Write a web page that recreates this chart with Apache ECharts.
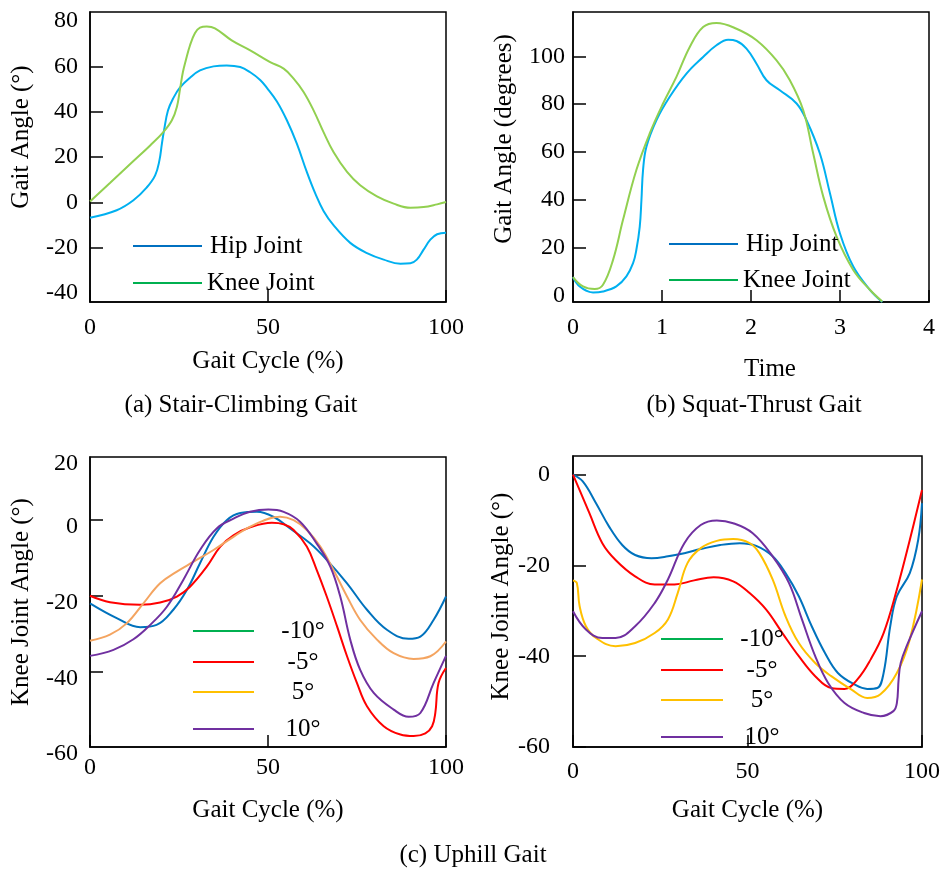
<!DOCTYPE html>
<html>
<head>
<meta charset="utf-8">
<script src="https://cdn.jsdelivr.net/npm/echarts@6.0.0/dist/echarts.min.js"></script>
<style>
  html, body { margin: 0; padding: 0; background: #fff; }
  #chart { width: 943px; height: 869px; }
</style>
</head>
<body>
<div id="chart"></div>
<script>
const FONT = 'Liberation Serif'

// (a) stair climbing
const hipAX = [0, 7.5, 12.2, 15.9, 18.3, 19.5, 20.2, 20.8, 21.9, 23.4, 25.3, 28.1, 30.9, 34.7, 38.4, 42.2, 45.0, 47.8, 49.7, 52.5, 55.3, 58.1, 60.9, 63.3, 65.6, 68.4, 73.1, 77.8, 82.5, 87.2, 90.0, 91.8, 93.7, 95.6, 97.5, 100]
const hipAY = [-6.8, -3.5, 0.9, 6.5, 11.9, 18.5, 25.9, 31.8, 40.5, 46.0, 50.7, 55.0, 58.2, 60.0, 60.4, 59.7, 57.4, 54.0, 50.5, 44.5, 36.2, 25.9, 13.4, 3.8, -3.8, -10.1, -17.9, -22.4, -25.3, -27.1, -26.9, -25.3, -20.9, -16.5, -14.1, -13.4]
const kneeAX = [0, 5.6, 12.2, 16.9, 20.6, 23.0, 24.4, 25.3, 26.1, 26.9, 28.1, 29.5, 30.9, 32.8, 35.1, 39.8, 45.0, 50.6, 54.4, 57.2, 60.0, 62.8, 65.6, 68.4, 72.2, 75.9, 80.6, 85.3, 90.0, 93.7, 97.5, 100]
const kneeAY = [0.4, 8.5, 18.2, 25.1, 31.0, 36.2, 42.1, 50.1, 57.5, 62.6, 69.3, 74.7, 77.1, 77.6, 76.8, 71.5, 67.1, 61.9, 59.0, 54.6, 48.7, 40.6, 31.0, 22.2, 13.4, 7.5, 2.6, -0.6, -2.4, -2.1, -0.9, 0.1]

// (b) squat thrust
const hipBX = [0, 0.075, 0.225, 0.337, 0.487, 0.6, 0.675, 0.712, 0.75, 0.769, 0.787, 0.825, 0.937, 1.087, 1.275, 1.462, 1.612, 1.743, 1.837, 1.949, 2.062, 2.174, 2.324, 2.512, 2.624, 2.774, 2.887, 2.999, 3.149, 3.336, 3.475]
const hipBY = [7.8, 3.9, 1.4, 1.8, 3.9, 8.1, 13.6, 19.2, 28.9, 40.0, 52.5, 62.2, 73.3, 83.1, 92.8, 99.7, 104.6, 106.9, 106.4, 103.2, 96.9, 90.0, 85.8, 80.3, 73.3, 59.4, 42.8, 26.1, 12.2, 2.5, -2.6]
const kneeBX = [0, 0.112, 0.244, 0.337, 0.45, 0.562, 0.712, 0.862, 1.012, 1.162, 1.312, 1.462, 1.612, 1.837, 2.062, 2.287, 2.437, 2.587, 2.699, 2.812, 2.962, 3.149, 3.336, 3.475]
const kneeBY = [7.8, 3.9, 2.8, 4.6, 15.0, 31.7, 52.5, 67.8, 80.3, 91.4, 103.9, 112.2, 113.9, 111.5, 106.7, 98.3, 90.0, 77.5, 59.4, 41.4, 24.7, 10.8, 2.5, -2.4]

// (c) uphill, left
const m10CX = [0, 7.5, 14.1, 18.7, 23.4, 27.2, 30.9, 34.7, 38.4, 42.2, 46.9, 51.5, 56.2, 61.9, 66.5, 72.2, 77.8, 83.4, 89.5, 92.8, 96.5, 100]
const m10CY = [-22.0, -25.9, -28.3, -27.7, -23.7, -18.5, -11.4, -4.4, 0.0, 1.9, 2.2, 0.9, -2.2, -6.2, -10.5, -16.7, -23.7, -29.0, -31.4, -30.8, -26.4, -20.2]
const m5CX = [0, 5.6, 14.1, 19.7, 24.4, 28.1, 32.8, 36.6, 40.3, 45.0, 51.1, 54.4, 57.2, 60.9, 63.7, 66.5, 69.4, 72.2, 75.0, 77.8, 82.5, 87.2, 90.9, 94.2, 96.1, 97.0, 97.9, 100]
const m5CY = [-20.0, -21.7, -22.4, -21.8, -20.2, -17.6, -12.3, -7.0, -4.0, -1.9, -0.7, -1.1, -2.6, -7.0, -13.2, -20.2, -28.1, -36.0, -43.1, -49.2, -54.5, -56.7, -57.1, -56.4, -54.5, -51.0, -43.1, -39.1]
const p5CX = [0, 5.6, 10.3, 15.0, 19.7, 24.4, 29.1, 34.7, 40.3, 45.9, 53.4, 57.2, 60.9, 64.7, 68.4, 72.2, 75.9, 80.6, 85.3, 90.9, 95.6, 100]
const p5CY = [-31.9, -30.3, -27.3, -22.0, -16.7, -13.6, -11.0, -7.9, -4.4, -1.3, 0.9, 0.0, -2.6, -7.0, -13.2, -20.2, -26.4, -31.6, -35.2, -36.7, -36.0, -32.1]
const p10CX = [0, 6.6, 12.2, 16.9, 21.6, 26.2, 30.9, 35.6, 40.3, 45.0, 50.1, 54.4, 59.0, 63.7, 67.5, 70.3, 73.1, 75.9, 79.7, 85.3, 89.5, 92.8, 96.5, 100]
const p10CY = [-35.9, -34.3, -31.5, -27.7, -22.9, -15.8, -7.9, -2.2, 0.4, 2.2, 2.8, 2.2, -0.4, -6.2, -12.3, -20.2, -31.6, -39.6, -45.7, -50.1, -52.0, -51.0, -43.1, -35.9]

// (c) uphill, right
const m10DX = [0, 2.8, 6.6, 10.3, 14.1, 17.8, 22.5, 27.2, 31.9, 36.6, 42.2, 47.8, 52.5, 57.2, 60.9, 64.7, 68.4, 72.2, 75.9, 80.6, 84.3, 87.2, 89.0, 90.9, 92.8, 96.5, 98.9, 100]
const m10DY = [0.0, -1.5, -6.3, -11.4, -15.5, -17.7, -18.4, -18.0, -17.3, -16.4, -15.5, -15.1, -15.7, -18.0, -21.7, -26.8, -33.4, -39.3, -43.7, -46.2, -47.2, -47.0, -43.7, -33.4, -26.8, -21.7, -14.4, -6.3]
const m5DX = [0, 1.9, 4.7, 8.4, 12.2, 17.8, 23.4, 29.1, 34.7, 40.3, 45.9, 50.6, 55.3, 60.0, 64.7, 69.4, 74.0, 77.8, 81.5, 85.3, 89.0, 92.8, 96.5, 100]
const m5DY = [0.0, -3.4, -8.5, -15.1, -18.8, -22.4, -24.2, -24.2, -23.3, -22.6, -23.5, -26.1, -29.7, -34.9, -40.0, -44.4, -47.0, -47.2, -45.1, -40.7, -34.9, -25.3, -14.4, -3.4]
const p5DX = [0, 1.1, 1.9, 3.7, 6.6, 12.2, 17.8, 23.4, 27.2, 30.0, 32.8, 36.6, 41.2, 45.9, 50.6, 53.4, 57.2, 60.9, 64.7, 69.4, 74.0, 79.7, 84.3, 88.1, 92.8, 96.5, 100]
const p5DY = [-23.3, -23.9, -29.0, -33.4, -36.0, -37.8, -37.1, -34.9, -31.9, -26.1, -19.5, -16.2, -14.6, -14.2, -15.1, -17.3, -23.1, -31.2, -37.1, -41.5, -44.4, -47.3, -49.2, -48.4, -43.7, -36.3, -23.1]
const p10DX = [0, 3.7, 8.4, 12.2, 17.8, 23.4, 27.2, 31.9, 36.6, 41.2, 45.9, 51.5, 57.2, 61.9, 65.6, 69.4, 73.1, 77.8, 83.4, 88.1, 91.8, 92.8, 93.3, 93.9, 95.6, 100]
const p10DY = [-30.1, -34.1, -36.0, -36.0, -33.4, -28.3, -23.1, -15.1, -11.1, -10.1, -10.7, -12.9, -18.0, -23.9, -31.9, -40.0, -45.9, -50.3, -52.5, -53.2, -52.1, -50.3, -45.1, -41.5, -37.8, -30.1]

// tick labels
const angleATicks = [-40, -20, 0, 20, 40, 60, 80]
const angleBTicks = [0, 20, 40, 60, 80, 100]
const angleCTicks = [-60, -40, -20, 0, 20]

const pairs = (xs, ys) => xs.map((x, i) => [x, ys[i]])
// keep label values inside the axis extent, show the nominal value
const clampTo = (ticks, min, max) => ticks.map(v => Math.min(Math.max(v, min), max))
const roundLabel = v => String(Math.round(v / 20) * 20)

const chart = echarts.init(document.getElementById('chart'))

const grids = [
  { left: 90, top: 12, width: 356, height: 290 },
  { left: 573, top: 12, width: 356, height: 290 },
  { left: 90, top: 457, width: 356, height: 290 },
  { left: 573, top: 456, width: 356, height: 291 }
].map(g => ({ ...g, show: true, borderColor: '#000', borderWidth: 1.5 }))

const txt = () => ({ fontFamily: FONT, color: '#000' })
const axisLine = () => ({ show: true, onZero: false, lineStyle: { color: '#000', width: 1.5 } })

// interval ticks: the ones at min/max sit on the frame
function xAxis (gi, max, interval, name, margin, nameGap, extra) {
  return {
    type: 'value', gridIndex: gi, min: 0, max, interval,
    axisLine: axisLine(),
    splitLine: { show: false },
    axisTick: { show: true, inside: true, length: 12, lineStyle: { color: '#000', width: 1.5 } },
    axisLabel: { margin, ...txt(), fontSize: 24 },
    name, nameLocation: 'middle', nameGap,
    nameTextStyle: { ...txt(), fontSize: 25 },
    ...extra
  }
}

function yAxis (gi, min, max, ticks, labels, name, margin, nameGap, shiftUp, labelDown, extra) {
  const label = { formatter: roundLabel, margin, ...txt(), fontSize: 24 }
  if (labels) label.customValues = clampTo(labels, min, max)
  if (labelDown) {
    label.verticalAlign = 'top'
    label.lineHeight = labelDown * 2
  }
  const tick = { show: true, inside: true, length: 13, lineStyle: { color: '#000', width: 1.5 } }
  if (ticks) tick.customValues = ticks
  return {
    type: 'value', gridIndex: gi, min, max,
    splitLine: { show: false },
    axisLine: axisLine(),
    axisTick: tick,
    axisLabel: label,
    name, nameLocation: 'middle', nameGap,
    nameTextStyle: { ...txt(), fontSize: 25, padding: [0, 0, 0, shiftUp * 2] },
    ...extra
  }
}

function line (name, gi, data, color) {
  return {
    type: 'line', name, xAxisIndex: gi, yAxisIndex: gi, data,
    symbol: 'none', smooth: 0.4,
    lineStyle: { color, width: 2 }, itemStyle: { color }
  }
}

function legendItem (name, color, left, centerY, iconWidth, textStyle) {
  return {
    left, top: centerY - 13,
    selectedMode: false,
    icon: 'rect',
    itemWidth: iconWidth, itemHeight: 2,
    data: [{ name, itemStyle: { color } }],
    textStyle: { ...txt(), fontSize: 25, lineHeight: 26, ...textStyle }
  }
}

const centered = w => ({ rich: { t: { width: w, align: 'center', fontFamily: FONT, fontSize: 25, lineHeight: 26, color: '#000' } } })
function angleLegend (name, color, left, centerY, iconWidth, w) {
  const l = legendItem(name, color, left, centerY, iconWidth, centered(w))
  l.formatter = n => '{t|' + n + '}'
  return l
}

function caption (text, x, y) {
  return { type: 'text', x, y, style: { text, font: '25px ' + FONT, fill: '#000', align: 'center', verticalAlign: 'middle' } }
}

const noMove = { nameMoveOverlap: false }

const option = {
  animation: false,
  grid: grids,
  xAxis: [
    xAxis(0, 100, 50, 'Gait Cycle (%)', 14, 47, noMove),
    xAxis(1, 4, 1, '', 14, 55, {}),
    xAxis(2, 100, 50, 'Gait Cycle (%)', 9, 51, { axisLabel: { margin: 9, ...txt(), fontSize: 24, showMinLabel: true, showMaxLabel: true } }),
    xAxis(3, 100, 50, 'Gait Cycle (%)', 13, 51, {})
  ],
  yAxis: [
    yAxis(0, -44, 84, [-20, 0, 20, 40, 60], angleATicks, 'Gait Angle (°)', 12, 56, 20, 0, noMove),
    yAxis(1, -2.6, 118.5, [20, 40, 60, 80, 100], angleBTicks, 'Gait Angle (degrees)', 8, 56, 18, 0, {}),
    yAxis(2, -60, 16.7, [-40, -20, 0], angleCTicks, 'Knee Joint Angle (°)', 12, 56, 0, 7, {}),
    yAxis(3, -60, 4.1, null, null, 'Knee Joint Angle (°)', 23, 56, 5, 0, { interval: 20 })
  ],
  legend: [
    legendItem('Hip Joint', '#0070C0', 128, 241, 69, { padding: [0, 0, 0, 3] }),
    legendItem('Knee Joint', '#00B050', 128, 278, 69, {}),
    legendItem('Hip Joint', '#0070C0', 664, 239, 69, { padding: [0, 0, 0, 3] }),
    legendItem('Knee Joint', '#00B050', 664, 275, 69, {}),
    angleLegend('-10°', '#00B050', 188, 626, 61, 88),
    angleLegend('-5°', '#FF0000', 188, 657, 61, 88),
    angleLegend('5°', '#FFC000', 188, 687, 61, 88),
    angleLegend('10°', '#7030A0', 188, 724, 61, 88),
    angleLegend('-10°', '#00B050', 656, 634, 62, 68),
    angleLegend('-5°', '#FF0000', 656, 665, 62, 68),
    angleLegend('5°', '#FFC000', 656, 695, 62, 68),
    angleLegend('10°', '#7030A0', 656, 732, 62, 68)
  ],
  graphic: [
    caption('Time', 770, 369),
    caption('(a) Stair-Climbing Gait', 241, 405),
    caption('(b) Squat-Thrust Gait', 754, 405),
    caption('(c) Uphill Gait', 473, 855)
  ],
  series: [
    line('Hip Joint', 0, pairs(hipAX, hipAY), '#00B0F0'),
    line('Knee Joint', 0, pairs(kneeAX, kneeAY), '#92D050'),
    line('Hip Joint', 1, pairs(hipBX, hipBY), '#00B0F0'),
    line('Knee Joint', 1, pairs(kneeBX, kneeBY), '#92D050'),
    line('-10°', 2, pairs(m10CX, m10CY), '#0072BD'),
    line('-5°', 2, pairs(m5CX, m5CY), '#FF0000'),
    line('5°', 2, pairs(p5CX, p5CY), '#F4A460'),
    line('10°', 2, pairs(p10CX, p10CY), '#7030A0'),
    line('-10°', 3, pairs(m10DX, m10DY), '#0072BD'),
    line('-5°', 3, pairs(m5DX, m5DY), '#FF0000'),
    line('5°', 3, pairs(p5DX, p5DY), '#FFC000'),
    line('10°', 3, pairs(p10DX, p10DY), '#7030A0')
  ]
}

chart.setOption(option)
</script>
</body>
</html>
